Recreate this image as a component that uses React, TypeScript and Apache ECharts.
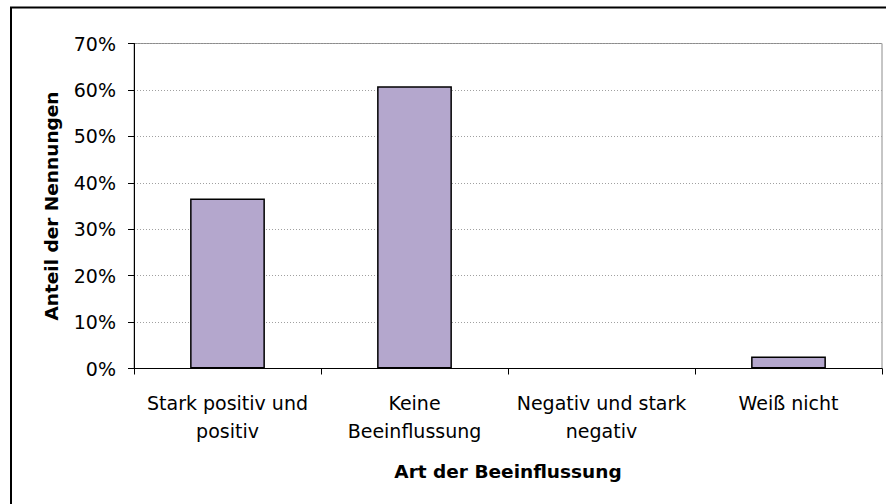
import React, { useEffect, useRef } from "react";
import * as echarts from "echarts";

// Anteil der Nennungen je Art der Beeinflussung (in %)
const categories: string[] = [
  "Stark positiv und\npositiv",
  "Keine\nBeeinflussung",
  "Negativ und stark\nnegativ",
  "Weiß nicht",
];
const shares: number[] = [36.6, 60.8, 0, 2.6];

const yTicks = { min: 0, max: 70, interval: 10 };

const FONT = "DejaVu Sans";

export default function App() {
  const ref = useRef<HTMLDivElement>(null);

  useEffect(() => {
    if (!ref.current) return;
    const chart = echarts.init(ref.current, undefined, { renderer: "svg" });
    // a zero share gets no outline, so nothing is drawn on the baseline
    const barData = shares.map((v) =>
      v === 0 ? { value: v, itemStyle: { borderWidth: 0 } } : v
    );
    chart.setOption({
      animation: false,
      backgroundColor: "#ffffff",
      textStyle: { fontFamily: FONT },
      graphic: [
        {
          type: "rect",
          shape: { x: 11, y: 7.5, width: 900, height: 520 },
          style: { fill: "none", stroke: "#000000", lineWidth: 2 },
          silent: true,
          z: 100,
        },
      ],
      grid: {
        left: 134,
        right: 4,
        top: 43.5,
        bottom: 135.5,
        show: true,
        borderColor: "#8c8c8c",
        borderWidth: 1,
        backgroundColor: "transparent",
      },
      xAxis: {
        type: "category",
        data: categories,
        name: "Art der Beeinflussung",
        nameLocation: "middle",
        nameGap: 93,
        nameTextStyle: {
          fontFamily: FONT,
          fontWeight: "bold",
          fontSize: 18.5,
          color: "#000000",
        },
        axisLine: { lineStyle: { color: "#000000", width: 1 } },
        axisTick: { show: true, length: 6, lineStyle: { color: "#000000" } },
        axisLabel: {
          interval: 0,
          margin: 20,
          fontFamily: FONT,
          fontSize: 19,
          lineHeight: 28,
          color: "#000000",
        },
        splitLine: { show: false },
      },
      yAxis: {
        type: "value",
        min: yTicks.min,
        max: yTicks.max,
        interval: yTicks.interval,
        name: "Anteil der Nennungen",
        nameLocation: "middle",
        nameGap: 73,
        nameTextStyle: {
          fontFamily: FONT,
          fontWeight: "bold",
          fontSize: 18.5,
          color: "#000000",
        },
        axisLine: { show: true, lineStyle: { color: "#000000", width: 1 } },
        axisTick: { show: true, length: 6, lineStyle: { color: "#000000" } },
        axisLabel: {
          margin: 18,
          fontFamily: FONT,
          fontSize: 19,
          color: "#000000",
          formatter: (v: number) => `${v}%`,
        },
        splitLine: {
          show: true,
          lineStyle: { color: "#a0a0a0", type: [1, 2], width: 1 },
        },
      },
      series: [
        {
          type: "bar",
          data: barData,
          barWidth: "40%",
          itemStyle: {
            color: "#b4a7cd",
            borderColor: "#000000",
            borderWidth: 1.5,
          },
        },
      ],
    });
    return () => chart.dispose();
  }, []);

  return (
    <div
      ref={ref}
      style={{ position: "fixed", left: 0, top: 0, width: 886, height: 504 }}
    />
  );
}
